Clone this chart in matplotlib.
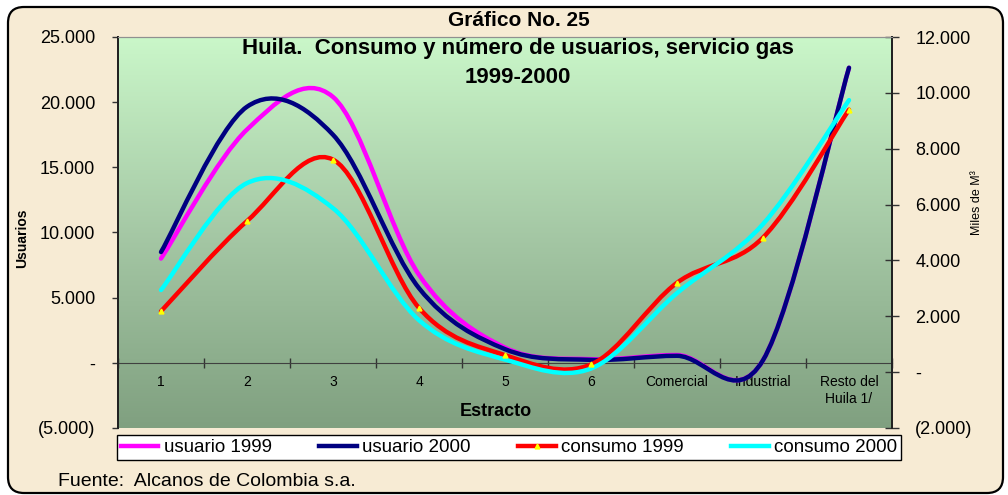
import numpy as np
import matplotlib
matplotlib.use("Agg")
import matplotlib.pyplot as plt
from matplotlib.path import Path
from matplotlib.patches import PathPatch, FancyBboxPatch
from matplotlib.lines import Line2D
from matplotlib.colors import LinearSegmentedColormap
from matplotlib.ticker import FuncFormatter, FixedLocator
from matplotlib.transforms import IdentityTransform

plt.rcParams['font.family'] = ['Liberation Sans', 'DejaVu Sans']

# data
estratos = ['1', '2', '3', '4', '5', '6', 'Comercial', 'Industrial', 'Resto del\nHuila 1/']
usuario_1999 = [8000, 17900, 20400, 6750, 1170, 280, 600, 200, 22640]
usuario_2000 = [8500, 19650, 17500, 5730, 1050, 230, 540, 200, 22640]
consumo_1999 = [2180, 5410, 7610, 2300, 610, 275, 3200, 4820, 9400]
consumo_2000 = [2940, 6770, 5870, 1860, 450, 130, 2830, 5300, 9740]


def smooth_path(xs, ys):
    # excel style smoothed line: bezier segments through every point
    n = len(xs)
    verts = [(xs[0], ys[0])]
    codes = [Path.MOVETO]
    for i in range(n - 1):
        i0, i3 = max(i - 1, 0), min(i + 2, n - 1)
        c1 = (xs[i] + (xs[i + 1] - xs[i0]) / 6, ys[i] + (ys[i + 1] - ys[i0]) / 6)
        c2 = (xs[i + 1] - (xs[i3] - xs[i]) / 6, ys[i + 1] - (ys[i3] - ys[i]) / 6)
        verts += [c1, c2, (xs[i + 1], ys[i + 1])]
        codes += [Path.CURVE4] * 3
    return Path(verts, codes)


def miles(v, pos):
    if abs(v) < 1e-9:
        return '-'
    s = f'{abs(v):,.0f}'.replace(',', '.')
    return f'({s})' if v < 0 else s


fig = plt.figure(figsize=(10.08, 4.95), dpi=100)
fig.patch.set_facecolor('white')
fig.patches.append(FancyBboxPatch((8, 2), 995, 486, boxstyle='round,pad=0,rounding_size=16',
                                  transform=IdentityTransform(), facecolor='#F7EBD4',
                                  edgecolor='black', lw=1.6, zorder=-10))

ax = fig.add_axes([118 / 1008, 67 / 495, 774 / 1008, 391 / 495])
ax2 = ax.twinx()

grad = LinearSegmentedColormap.from_list('g', ['#80A080', '#A5C8A5', '#CAF7C9'])
ax.imshow(np.linspace(0, 1, 256).reshape(-1, 1), extent=(0, 1, 0, 1), origin='lower',
          transform=ax.transAxes, aspect='auto', cmap=grad, zorder=0)

x = np.arange(len(estratos))
for vals, col, axis in [(usuario_1999, '#FF00FF', ax), (usuario_2000, '#000080', ax),
                        (consumo_1999, '#FF0000', ax2), (consumo_2000, '#00FFFF', ax2)]:
    axis.add_patch(PathPatch(smooth_path(x, vals), fill=False, edgecolor=col, lw=3.2,
                             capstyle='round', joinstyle='round', zorder=3))
ax2.plot(x, consumo_1999, linestyle='none', marker='^', ms=3.5, color='#FFFF00', zorder=4)

ax.set_xlim(-0.5, len(estratos) - 0.5)
ax.set_ylim(-5000, 25000)
ax2.set_ylim(-2000, 12000)

ax.yaxis.set_major_locator(FixedLocator(np.arange(-5000, 25001, 5000)))
ax2.yaxis.set_major_locator(FixedLocator(np.arange(-2000, 12001, 2000)))
ax.yaxis.set_major_formatter(FuncFormatter(miles))
ax2.yaxis.set_major_formatter(FuncFormatter(miles))
ax.tick_params(axis='y', direction='out', length=4.5, width=1, pad=12, labelsize=13, color='#333333')
ax2.tick_params(axis='y', direction='inout', length=9.5, width=1, pad=12, labelsize=13, color='#333333')

ax.set_xticks(x)
ax.set_xticklabels(estratos, fontsize=10, color='#202020', linespacing=1.45)
ax.set_xticks(np.arange(len(estratos) + 1) - 0.5, minor=True)
ax.tick_params(axis='x', which='major', length=0, pad=9)
ax.tick_params(axis='x', which='minor', direction='inout', length=7, width=1, color='#333333')

for a in (ax, ax2):
    a.spines['bottom'].set_position(('data', 0))
    a.spines['bottom'].set_color('#404040')
    a.spines['top'].set_color('#909090')
    a.spines['top'].set_linewidth(0.8)
    a.spines['left'].set_color('#222222')
    a.spines['right'].set_color('#222222')
    a.spines['left'].set_linewidth(1.4)
    a.spines['right'].set_linewidth(1.4)
ax2.spines['bottom'].set_visible(False)
ax2.tick_params(axis='x', which='both', length=0)

fig.text(519 / 1008, 1 - 20 / 495, 'Gráfico No. 25', ha='center', va='center',
         fontsize=15, fontweight='bold')
fig.text(518 / 1008, 1 - 63 / 495, 'Huila.  Consumo y número de usuarios, servicio gas\n1999-2000',
         ha='center', va='center', fontsize=16, fontweight='bold', linespacing=1.55)
fig.text(22 / 1008, 1 - 238 / 495, 'Usuarios', rotation=90, ha='center', va='center',
         fontsize=10, fontweight='bold')
fig.text(977 / 1008, 1 - 203 / 495, 'Miles de M³', rotation=90, ha='center', va='center',
         fontsize=9)
fig.text(496 / 1008, 1 - 411 / 495, 'Estracto', ha='center', va='center',
         fontsize=13, fontweight='bold')
fig.text(58 / 1008, 1 - 481 / 495, 'Fuente:  Alcanos de Colombia s.a.', ha='left', va='center',
         fontsize=14)

handles = [Line2D([], [], color='#FF00FF', lw=3.2),
           Line2D([], [], color='#000080', lw=3.2),
           Line2D([], [], color='#FF0000', lw=3.2, marker='^', ms=3.5,
                  markerfacecolor='#FFFF00', markeredgecolor='#FFFF00'),
           Line2D([], [], color='#00FFFF', lw=3.2)]
leg = fig.legend(handles, ['usuario 1999', 'usuario 2000', 'consumo 1999', 'consumo 2000'],
                 loc='center', bbox_to_anchor=(117 / 1008, 1 - 462 / 495, 784 / 1008, 29 / 495),
                 mode='expand', ncol=4, fontsize=13.5, frameon=True, fancybox=False,
                 edgecolor='black', facecolor='white', framealpha=1, borderpad=0.2,
                 handlelength=2.0, handletextpad=0.3, borderaxespad=0, columnspacing=1.4)
leg.get_frame().set_linewidth(1)

fig.savefig('out.png', dpi=100)
